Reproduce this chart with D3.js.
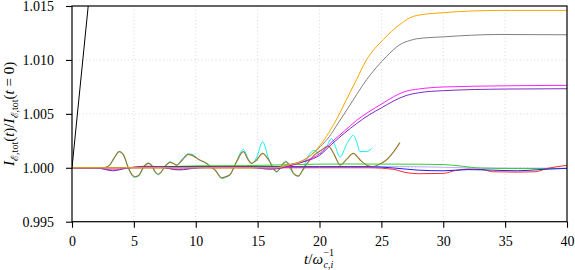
<!DOCTYPE html>
<html>
<head>
<meta charset="utf-8">
<script src="https://cdn.jsdelivr.net/npm/d3@7/dist/d3.min.js"></script>
<style>
  html, body { margin: 0; padding: 0; background: #fff; }
  svg { display: block; }
</style>
</head>
<body>
<svg id="chart" width="575" height="270"></svg>
<script>
// ---- data (t, value) ----
const xTicks = [0, 5, 10, 15, 20, 25, 30, 35, 40];
const yTicks = [0.995, 1.000, 1.005, 1.010, 1.015];

const black = [[0, 1.0], [2, 1.0229]];

const orange = [[0,1.0],[16.5,1.0],[17.45,1.00025],[18.5,1.00056],[19.34,1.00118],[20.06,1.00211],[20.8,1.00335],[21.5,1.00475],[22.17,1.0063],[23.0,1.0082],[23.81,1.01003],[25.16,1.01189],[26.5,1.01329],[27.3,1.0139],[27.85,1.01412],[30,1.01438],[34.6,1.01459],[40,1.01459]];

const gray = [[0,1.0],[16.5,1.0],[17.45,1.00028],[18.5,1.0006],[19.34,1.0012],[20.06,1.00196],[20.8,1.0029],[21.5,1.00413],[22.3,1.00553],[23.81,1.00817],[25.43,1.01034],[26.5,1.01142],[27.3,1.0118],[27.85,1.01196],[30,1.01214],[34.6,1.01236],[40,1.01233]];

const magenta = [[0,1.0],[2,0.99998],[3.3,0.9998],[4.4,0.99998],[6,1.0001],[7,1.00008],[8.6,0.99985],[10.2,1.0],[14,1.00005],[16,0.9999],[17,1.0],[18,1.0003],[19,1.0007],[20,1.0013],[21,1.0024],[22,1.0034],[23,1.0044],[24,1.0052],[25,1.0059],[26,1.0066],[27,1.0071],[28,1.0073],[30,1.00749],[35,1.0076],[40,1.00764]];

const purple = [[0,1.0],[2,0.99998],[3.3,0.99972],[4.4,0.99995],[6,1.00014],[7,1.0001],[8.6,0.9998],[10.2,1.0],[12,1.0001],[14,1.0001],[16,0.99987],[17,1.0],[18,1.00035],[19,1.00065],[20,1.00115],[21,1.0022],[22,1.0032],[23,1.0041],[24,1.0049],[25,1.00555],[26,1.0062],[27,1.0067],[28,1.00695],[30,1.00715],[35,1.0073],[40,1.00733]];

const olive = [[0,1.0],[2.5,1.0],[3.0,1.0002],[3.4,1.0009],[3.82,1.0015],[4.2,1.0011],[4.55,1.0],[4.85,0.99935],[5.09,0.99917],[5.4,0.9993],[5.8,1.0001],[6.17,1.0004],[6.45,1.0002],[6.71,0.99963],[6.97,0.9994],[7.2,0.9996],[7.5,1.0001],[7.92,1.0005],[8.2,1.0004],[8.46,1.00025],[8.9,1.0007],[9.4,1.00125],[9.8,1.0011],[10.2,1.0008],[10.88,1.0004],[11.2,1.0001],[11.56,0.9998],[12.1,0.99907],[12.5,0.9992],[12.77,0.99938],[13.3,1.00056],[13.84,1.0015],[14.25,1.00072],[14.52,1.0004],[14.9,1.0007],[15.41,1.00134],[15.9,1.0007],[16.54,0.99965],[17.0,1.0003],[17.3,1.00056],[17.6,1.0002],[17.9,0.99948],[18.29,0.99923],[18.6,0.9997],[19.0,1.0004],[19.6,1.0012],[20.1,1.0016],[20.7,1.002],[21.2,1.0012],[21.66,1.00025],[22.2,1.0008],[22.73,1.00134],[23.3,1.0007],[23.8,1.00025],[24.3,1.0001],[24.8,1.0003],[25.4,1.00072],[26.0,1.0015],[26.5,1.00233]];

const cyan = [[0,1.0],[2.5,1.0],[3.0,1.0002],[3.4,1.0009],[3.82,1.0015],[4.2,1.0011],[4.55,1.0],[4.85,0.9993],[5.09,0.99912],[5.4,0.99925],[5.8,1.0001],[6.17,1.00045],[6.45,1.0002],[6.71,0.9996],[6.97,0.99935],[7.2,0.9996],[7.5,1.0001],[7.92,1.00055],[8.2,1.0004],[8.46,1.00025],[8.9,1.0008],[9.4,1.0013],[9.8,1.0012],[10.2,1.0008],[10.88,1.0004],[11.2,1.0001],[11.56,0.9998],[12.1,0.999],[12.5,0.99915],[12.77,0.99935],[13.3,1.0006],[13.84,1.0017],[14.25,1.0008],[14.52,1.0004],[14.9,1.0009],[15.41,1.0024],[15.9,1.0008],[16.54,0.9996],[17.0,1.0003],[17.25,1.0006],[17.5,1.0002],[17.9,0.99945],[18.29,0.99922],[18.6,0.9997],[18.97,1.0008],[19.56,1.0016],[20.0,1.0013],[20.5,1.0018],[20.98,1.0027],[21.3,1.0019],[21.66,1.001],[22.2,1.0022],[22.73,1.003],[23.0,1.0024],[23.27,1.0015],[23.8,1.0015],[24.22,1.0018]];

const green = [[0,1.0],[5,1.0],[8,1.0001],[10,1.00018],[14,1.0002],[18,1.0003],[22,1.00035],[28,1.00033],[30,1.0003],[31.5,1.00015],[33,0.99997],[36,0.99993],[40,0.99993]];

const blue = [[0,1.0],[5,1.00003],[7,1.0001],[12,1.0001],[20,1.0001],[24,1.0001],[26,0.99998],[28,0.99978],[30,0.99972],[32,0.99983],[34,0.99978],[36,0.99972],[38,0.99985],[40,0.99995]];

const red = [[0,1.0],[20,1.0],[24,1.0],[26,0.99985],[27,0.99955],[28,0.99945],[30,0.99948],[31,0.99975],[32,0.99988],[33.2,0.99983],[34,0.99963],[36,0.9996],[37.4,0.99963],[38.4,0.99994],[40,1.00022]];

const lavender = [[0,1.0],[10,1.00005],[20,1.0001],[26,1.00012],[30,1.00005],[33,0.99998],[40,0.99995]];

const seriesList = [
  { data: cyan, color: "#10f0f0", w: 1.0 },
  { data: olive, color: "#9c7a30", w: 1.2 },
  { data: lavender, color: "#c8a8ff", w: 1.0 },
  { data: green, color: "#30d030", w: 1.0 },
  { data: red, color: "#ff2a2a", w: 1.0 },
  { data: blue, color: "#2020f0", w: 1.0 },
  { data: magenta, color: "#ff22ff", w: 1.0 },
  { data: purple, color: "#7a2cc0", w: 1.0 },
  { data: gray, color: "#808080", w: 1.0 },
  { data: orange, color: "#ffa500", w: 1.0 },
  { data: black, color: "#000000", w: 1.0 }
];

// ---- layout ----
const FONT = "Liberation Serif";
const svg = d3.select("#chart");
const mL = 72, mR = 567, mT = 6, mB = 221.7;
const x = d3.scaleLinear().domain([0, 40]).range([mL, mR]);
const y = d3.scaleLinear().domain([0.995, 1.015]).range([mB, mT]);

// grid
const grid = svg.append("g");
grid.selectAll("line.gx").data(xTicks.slice(1, -1)).enter().append("line")
  .attr("x1", d => x(d)).attr("x2", d => x(d)).attr("y1", mT).attr("y2", mB)
  .attr("stroke", "#cfcfcf").attr("stroke-width", 0.8).attr("stroke-dasharray", "1,2.5");
grid.selectAll("line.gy").data(yTicks.slice(1, -1)).enter().append("line")
  .attr("y1", d => y(d)).attr("y2", d => y(d)).attr("x1", mL).attr("x2", mR)
  .attr("stroke", "#cfcfcf").attr("stroke-width", 0.8).attr("stroke-dasharray", "1,2.5");

// clip
svg.append("clipPath").attr("id", "clip").append("rect")
  .attr("x", mL).attr("y", mT).attr("width", mR - mL).attr("height", mB - mT);

const line = d3.line().x(d => x(d[0])).y(d => y(d[1])).curve(d3.curveMonotoneX);
const plot = svg.append("g").attr("clip-path", "url(#clip)");
seriesList.forEach(s => {
  plot.append("path").datum(s.data).attr("d", line)
    .attr("fill", "none").attr("stroke", s.color).attr("stroke-width", s.w)
    .attr("stroke-linejoin", "round");
});

// axes
const xAxis = d3.axisBottom(x).tickValues(xTicks).tickFormat(d3.format("d")).tickSizeOuter(0).tickSize(6).tickPadding(8);
const yAxis = d3.axisLeft(y).tickValues(yTicks).tickFormat(d3.format(".3f")).tickSizeOuter(0).tickSize(6).tickPadding(12);
const gx = svg.append("g").attr("transform", `translate(0,${mB})`).call(xAxis);
const gy = svg.append("g").attr("transform", `translate(${mL},0)`).call(yAxis);
[gx, gy].forEach(g => {
  g.attr("font-family", FONT).attr("font-size", 14);
  g.select(".domain").remove();
  g.selectAll(".tick line").attr("stroke", "#000").attr("stroke-width", 1.1);
  g.selectAll("text").attr("fill", "#000");
});

// frame
svg.append("rect").attr("x", mL).attr("y", mT).attr("width", mR - mL).attr("height", mB - mT)
  .attr("fill", "none").attr("stroke", "#000").attr("stroke-width", 1.2);

// x label: t/ω with stacked sub/superscript
const xMain = svg.append("text").attr("y", 264).attr("font-family", FONT).attr("font-size", 15);
xMain.append("tspan").attr("font-style", "italic").text("t");
xMain.append("tspan").text("/");
xMain.append("tspan").attr("font-style", "italic").text("ω");
const mainW = xMain.node().getComputedTextLength();
const totalW = mainW + 12;
const x0 = (mL + mR) / 2 - totalW / 2;
xMain.attr("x", x0);
svg.append("text").attr("x", x0 + mainW + 0.5).attr("y", 268)
  .attr("font-family", FONT).attr("font-size", 10).attr("font-style", "italic").text("c,i");
svg.append("text").attr("x", x0 + mainW + 0.5).attr("y", 256)
  .attr("font-family", FONT).attr("font-size", 10).text("−1");

// y label
const yl = svg.append("text").attr("transform", `translate(14,${(mT + mB) / 2}) rotate(-90)`)
  .attr("text-anchor", "middle").attr("font-family", FONT).attr("font-size", 15);
yl.append("tspan").attr("font-style", "italic").text("I");
yl.append("tspan").attr("dy", 3.5).attr("font-size", 10).text("ℰ,tot");
yl.append("tspan").attr("dy", -3.5).text("(");
yl.append("tspan").attr("font-style", "italic").text("t");
yl.append("tspan").text(")/");
yl.append("tspan").attr("font-style", "italic").text("I");
yl.append("tspan").attr("dy", 3.5).attr("font-size", 10).text("ℰ,tot");
yl.append("tspan").attr("dy", -3.5).text("(");
yl.append("tspan").attr("font-style", "italic").text("t");
yl.append("tspan").text(" = 0)");
</script>
</body>
</html>
